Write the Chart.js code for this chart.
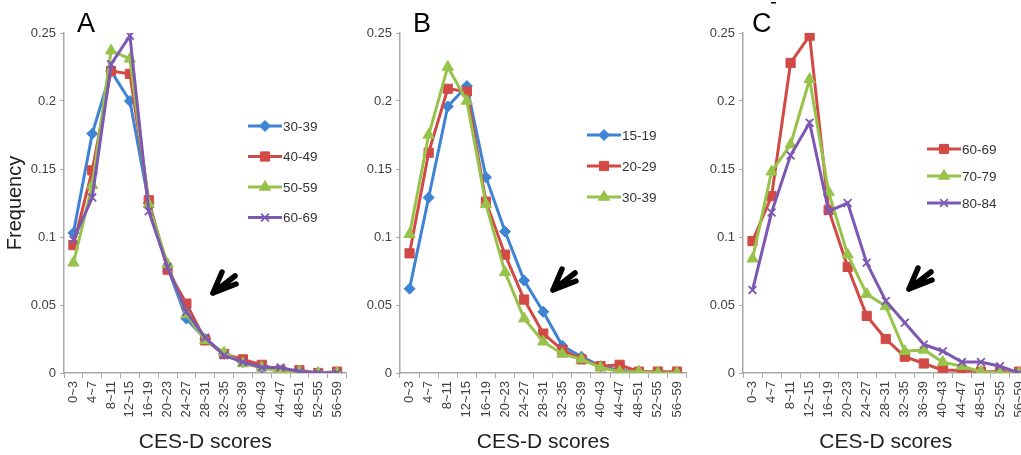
<!DOCTYPE html>
<html>
<head>
<meta charset="utf-8">
<script src="https://cdn.jsdelivr.net/npm/chart.js@4.4.1/dist/chart.umd.min.js"></script>
<style>
  html, body { margin: 0; padding: 0; background: #fff; overflow: hidden; width: 1021px; height: 455px; }
  .panel { position: absolute; top: 0; height: 455px; }
  canvas { display: block; }
</style>
</head>
<body>
<div class="panel" style="left:0px"><canvas id="chartA" width="354" height="455"></canvas></div>
<div class="panel" style="left:340px"><canvas id="chartB" width="354" height="455"></canvas></div>
<div class="panel" style="left:680px"><canvas id="chartC" width="356" height="455"></canvas></div>
<script>
// CES-D score bins (x axis)
const scoreBins = ["0~3", "4~7", "8~11", "12~15", "16~19", "20~23", "24~27", "28~31",
  "32~35", "36~39", "40~43", "44~47", "48~51", "52~55", "56~59"];

// Panel A
const groupsA = ["30-39", "40-49", "50-59", "60-69"];
const a30_39 = [0.103, 0.176, 0.222, 0.200, 0.125, 0.078, 0.040, 0.025, 0.014, 0.008, 0.004, 0.002, 0.001, 0.000, 0.000];
const a40_49 = [0.094, 0.149, 0.222, 0.220, 0.127, 0.076, 0.051, 0.024, 0.014, 0.010, 0.006, 0.002, 0.002, 0.000, 0.001];
const a50_59 = [0.081, 0.138, 0.237, 0.231, 0.124, 0.080, 0.043, 0.024, 0.015, 0.007, 0.004, 0.001, 0.001, 0.000, 0.000];
const a60_69 = [0.098, 0.129, 0.227, 0.248, 0.119, 0.078, 0.045, 0.026, 0.013, 0.008, 0.004, 0.004, 0.001, 0.000, 0.000];

// Panel B
const groupsB = ["15-19", "20-29", "30-39"];
const b15_19 = [0.062, 0.129, 0.196, 0.211, 0.144, 0.104, 0.068, 0.045, 0.020, 0.012, 0.005, 0.002, 0.001, 0.000, 0.000];
const b20_29 = [0.088, 0.162, 0.209, 0.207, 0.126, 0.087, 0.054, 0.029, 0.017, 0.010, 0.005, 0.006, 0.001, 0.001, 0.001];
const b30_39 = [0.102, 0.175, 0.225, 0.200, 0.124, 0.074, 0.040, 0.023, 0.014, 0.010, 0.004, 0.001, 0.001, 0.000, 0.000];

// Panel C
const groupsC = ["60-69", "70-79", "80-84"];
const c60_69 = [0.097, 0.130, 0.228, 0.248, 0.120, 0.078, 0.042, 0.025, 0.012, 0.007, 0.002, 0.002, 0.001, 0.001, 0.001];
const c70_79 = [0.084, 0.148, 0.168, 0.216, 0.133, 0.087, 0.058, 0.049, 0.016, 0.017, 0.008, 0.005, 0.001, 0.000, 0.000];
const c80_84 = [0.061, 0.118, 0.160, 0.184, 0.119, 0.125, 0.081, 0.053, 0.037, 0.021, 0.016, 0.008, 0.008, 0.005, 0.000];

const yMax = 0.25;
const yStep = 0.05;

// series looks (Excel-like)
const BLUE = { color: "#3f83d4", point: "rectRot", r: 5.5 };
const RED = { color: "#d24a45", point: "rect", r: 6.5 };
const GREEN = { color: "#97c34b", point: "triangle", r: 6.5 };
const PURPLE = { color: "#7d58b2", point: "crossRot", r: 5.5 };

const FONT = "'Liberation Sans', Arial, sans-serif";

function makeSets(names, series, looks) {
  return series.map((vals, i) => ({
    label: names[i],
    data: vals,
    borderColor: looks[i].color,
    backgroundColor: looks[i].color,
    borderWidth: 3,
    pointStyle: looks[i].point,
    pointRadius: looks[i].r,
    pointBorderWidth: looks[i].point === "crossRot" ? 1.8 : 1,
    tension: 0,
    order: series.length - i // later series on top, like Excel
  }));
}

// letter, legend, arrow drawn on top of the plot
const decorPlugin = {
  id: "decor",
  afterDraw(chart, args, opts) {
    const ctx = chart.ctx;
    ctx.save();
    // panel letter
    ctx.fillStyle = "#000";
    ctx.font = "27px " + FONT;
    ctx.textBaseline = "alphabetic";
    ctx.fillText(opts.letter, opts.letterX, 32);
    if (opts.tick) {
      ctx.fillRect(opts.tick[0], opts.tick[1], 5, 1.5);
    }
    // legend
    const lg = opts.legend;
    chart.data.datasets.forEach((ds, i) => {
      const y = lg.y + i * lg.dy;
      ctx.strokeStyle = ds.borderColor;
      ctx.lineWidth = 3;
      ctx.beginPath();
      ctx.moveTo(lg.x, y);
      ctx.lineTo(lg.x + 34, y);
      ctx.stroke();
      ctx.fillStyle = ds.borderColor;
      ctx.lineWidth = ds.pointBorderWidth;
      Chart.helpers.drawPoint(ctx, { pointStyle: ds.pointStyle, radius: ds.pointRadius, borderWidth: ds.pointBorderWidth, rotation: 0 }, lg.x + 17, y);
      ctx.fillStyle = "#333";
      ctx.font = "13.5px " + FONT;
      ctx.textBaseline = "middle";
      ctx.fillText(ds.label, lg.x + 35, y + 1);
    });
    // arrow
    const [tx, ty] = opts.arrow;
    ctx.strokeStyle = "#000";
    ctx.lineWidth = 5.5;
    ctx.lineCap = "round";
    ctx.beginPath();
    ctx.moveTo(tx, ty); ctx.lineTo(tx + 9, ty - 21);
    ctx.moveTo(tx, ty); ctx.lineTo(tx + 22, ty - 17);
    ctx.moveTo(tx, ty); ctx.lineTo(tx + 23, ty - 9);
    ctx.stroke();
    ctx.restore();
  }
};

function makeChart(id, datasets, cfg) {
  return new Chart(document.getElementById(id), {
    type: "line",
    data: { labels: scoreBins, datasets: datasets },
    plugins: [decorPlugin],
    options: {
      responsive: false,
      animation: false,
      events: [],
      layout: { padding: { top: 33, right: cfg.padRight, bottom: 0, left: 0 } },
      plugins: {
        legend: { display: false },
        tooltip: { enabled: false },
        decor: cfg.decor
      },
      scales: {
        x: {
          offset: true,
          afterFit(s) { s.height = 82; s.paddingLeft = 0; s.paddingRight = 0; },
          grid: {
            offset: true,
            drawOnChartArea: false,
            drawTicks: true,
            tickLength: 5,
            color: "#a8a8a8"
          },
          border: { color: "#a8a8a8", width: 1.5 },
          ticks: {
            autoSkip: false,
            minRotation: 90,
            maxRotation: 90,
            padding: 3,
            color: "#404040",
            font: { family: FONT, size: 13 }
          },
          title: {
            display: true,
            text: "CES-D scores",
            color: "#222",
            padding: { top: 0, bottom: 0 },
            font: { family: FONT, size: 21 }
          }
        },
        y: {
          min: 0,
          max: yMax,
          afterFit(s) { s.width = cfg.yWidth; },
          grid: {
            drawOnChartArea: false,
            drawTicks: true,
            tickLength: 4,
            color: "#a8a8a8"
          },
          border: { color: "#a8a8a8", width: 1.5 },
          ticks: {
            stepSize: yStep,
            padding: 4,
            color: "#404040",
            font: { family: FONT, size: 13 },
            callback: v => String(+v.toFixed(2))
          },
          title: {
            display: !!cfg.yTitle,
            text: cfg.yTitle || "",
            color: "#222",
            padding: { top: 3, bottom: 0 },
            font: { family: FONT, size: 20 }
          }
        }
      }
    }
  });
}

makeChart("chartA", makeSets(groupsA, [a30_39, a40_49, a50_59, a60_69], [BLUE, RED, GREEN, PURPLE]), {
  yWidth: 64, padRight: 3, yTitle: "Frequency",
  decor: { letter: "A", letterX: 77, legend: { x: 248, y: 126, dy: 30.5 }, arrow: [213, 293] }
});

makeChart("chartB", makeSets(groupsB, [b15_19, b20_29, b30_39], [BLUE, RED, GREEN]), {
  yWidth: 60, padRight: 3,
  decor: { letter: "B", letterX: 73, legend: { x: 247, y: 135, dy: 31 }, arrow: [213, 290] }
});

makeChart("chartC", makeSets(groupsC, [c60_69, c70_79, c80_84], [RED, GREEN, PURPLE]), {
  yWidth: 63, padRight: 2,
  decor: { letter: "C", letterX: 72, tick: [91, 2], legend: { x: 247, y: 149, dy: 27 }, arrow: [229, 289] }
});
</script>
</body>
</html>
